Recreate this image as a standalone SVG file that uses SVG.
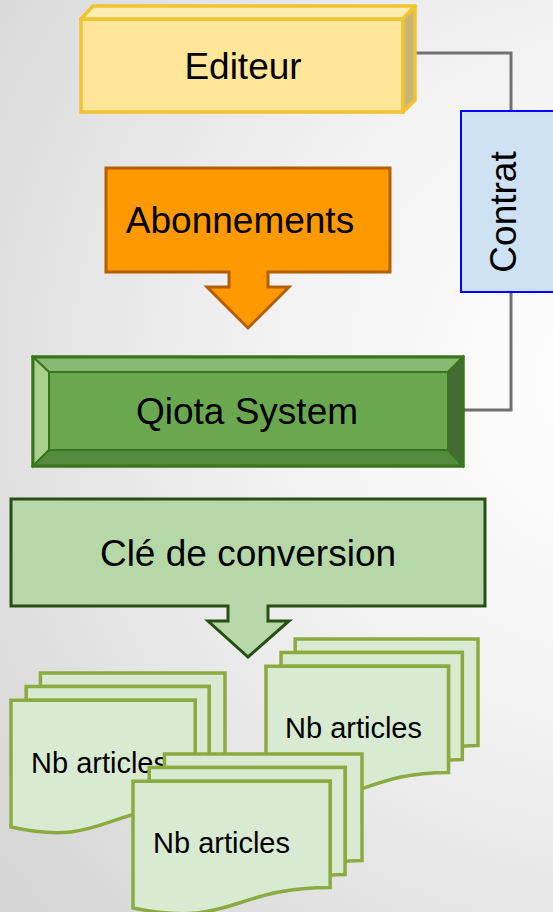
<svg xmlns="http://www.w3.org/2000/svg" width="553" height="912" viewBox="0 0 553 912">
<defs>
<radialGradient id="bg" gradientUnits="userSpaceOnUse" cx="620" cy="380" r="780">
<stop offset="0" stop-color="#ffffff"/>
<stop offset="0.45" stop-color="#f2f2f2"/>
<stop offset="1" stop-color="#d6d6d6"/>
</radialGradient>
<style>
text{font-family:"Liberation Sans",Arial,sans-serif;fill:#000}
.big{font-size:37px}
.doc{fill:#d9ead3;stroke:#8aab3f;stroke-width:3.5;vector-effect:non-scaling-stroke;stroke-linejoin:miter}
.conn{fill:none;stroke:#707070;stroke-width:3}
</style>
</defs>
<rect x="0" y="0" width="553" height="912" fill="url(#bg)"/>

<g id="connectors">
<path class="conn" d="M415,53 H511 V111"/>
<path class="conn" d="M511,292 V410 H448"/>
</g>

<g id="editeur">
<rect x="81" y="19" width="322" height="93" fill="#ffe699" stroke="#f1c232" stroke-width="3.5"/>
<polygon points="81,19 93,6 415,6 403,19" fill="#ffedb3" stroke="#f1c232" stroke-width="3.5" stroke-linejoin="round"/>
<polygon points="403,19 415,6 415,100 403,112" fill="#c9b677" stroke="#f1c232" stroke-width="3.5" stroke-linejoin="round"/>
<text class="big" x="243" y="79" text-anchor="middle">Editeur</text>
</g>

<g id="abonnements">
<path d="M106,168 H390 V272 H268 V287 H289 L248,328 L207,287 H229 V272 H106 Z" fill="#ff9900" stroke="#b45f06" stroke-width="3"/>
<text class="big" x="240" y="233" text-anchor="middle">Abonnements</text>
</g>

<g id="contrat">
<rect x="461" y="111" width="110" height="181" fill="#cfe2f3" stroke="#0000ff" stroke-width="2"/>
<text class="big" transform="translate(516,212) rotate(-90)" text-anchor="middle">Contrat</text>
</g>

<g id="qiota">
<rect x="33" y="357" width="430" height="109" fill="#6aa84f" stroke="#38761d" stroke-width="3"/>
<polygon points="33,357 463,357 448,372 49,372" fill="#88b972" stroke="#38761d" stroke-width="2"/>
<polygon points="33,357 49,372 49,450 33,466" fill="#a9d18e" stroke="#38761d" stroke-width="2"/>
<polygon points="33,466 49,450 448,450 463,466" fill="#558a3f" stroke="#38761d" stroke-width="2"/>
<polygon points="463,357 448,372 448,450 463,466" fill="#456a36" stroke="#38761d" stroke-width="2"/>
<rect x="33" y="357" width="430" height="109" fill="none" stroke="#38761d" stroke-width="3"/>
<text class="big" x="247" y="424" text-anchor="middle">Qiota System</text>
</g>

<g id="cle">
<path d="M11,499 H485 V606 H268 V621 H289 L248,657 L208,621 H228 V606 H11 Z" fill="#b6d7a8" stroke="#274e13" stroke-width="3"/>
<text class="big" x="248" y="566" text-anchor="middle">Clé de conversion</text>
</g>

<g id="doc1">
<g transform="translate(11,673) scale(0.009907,0.0074074)">
<path class="doc" d="M2972,1815 L2972,0 L21600,0 L21600,14392 C20800,14392 20000,14467 20000,14467 L20000,1815 Z"/>
<path class="doc" d="M1532,3675 L1532,1815 L20000,1815 L20000,16252 C19298,16252 18595,16352 18595,16352 L18595,3675 Z"/>
<path class="doc" d="M0,20782 C9298,23542 9298,18022 18595,18022 L18595,3675 L0,3675 Z"/>
</g>
<text x="31" y="773" style="font-size:29px">Nb articles</text>
</g>

<g id="doc2">
<g transform="translate(266,639) scale(0.009815,0.0074074)">
<path class="doc" d="M2972,1815 L2972,0 L21600,0 L21600,14392 C20800,14392 20000,14467 20000,14467 L20000,1815 Z"/>
<path class="doc" d="M1532,3675 L1532,1815 L20000,1815 L20000,16252 C19298,16252 18595,16352 18595,16352 L18595,3675 Z"/>
<path class="doc" d="M0,20782 C9298,23542 9298,18022 18595,18022 L18595,3675 L0,3675 Z"/>
</g>
<text x="285" y="738" style="font-size:29px">Nb articles</text>
</g>

<g id="doc3">
<g transform="translate(133,754) scale(0.010602,0.0074074)">
<path class="doc" d="M2972,1815 L2972,0 L21600,0 L21600,14392 C20800,14392 20000,14467 20000,14467 L20000,1815 Z"/>
<path class="doc" d="M1532,3675 L1532,1815 L20000,1815 L20000,16252 C19298,16252 18595,16352 18595,16352 L18595,3675 Z"/>
<path class="doc" d="M0,20782 C9298,23542 9298,18022 18595,18022 L18595,3675 L0,3675 Z"/>
</g>
<text x="153" y="853" style="font-size:29px">Nb articles</text>
</g>
</svg>
